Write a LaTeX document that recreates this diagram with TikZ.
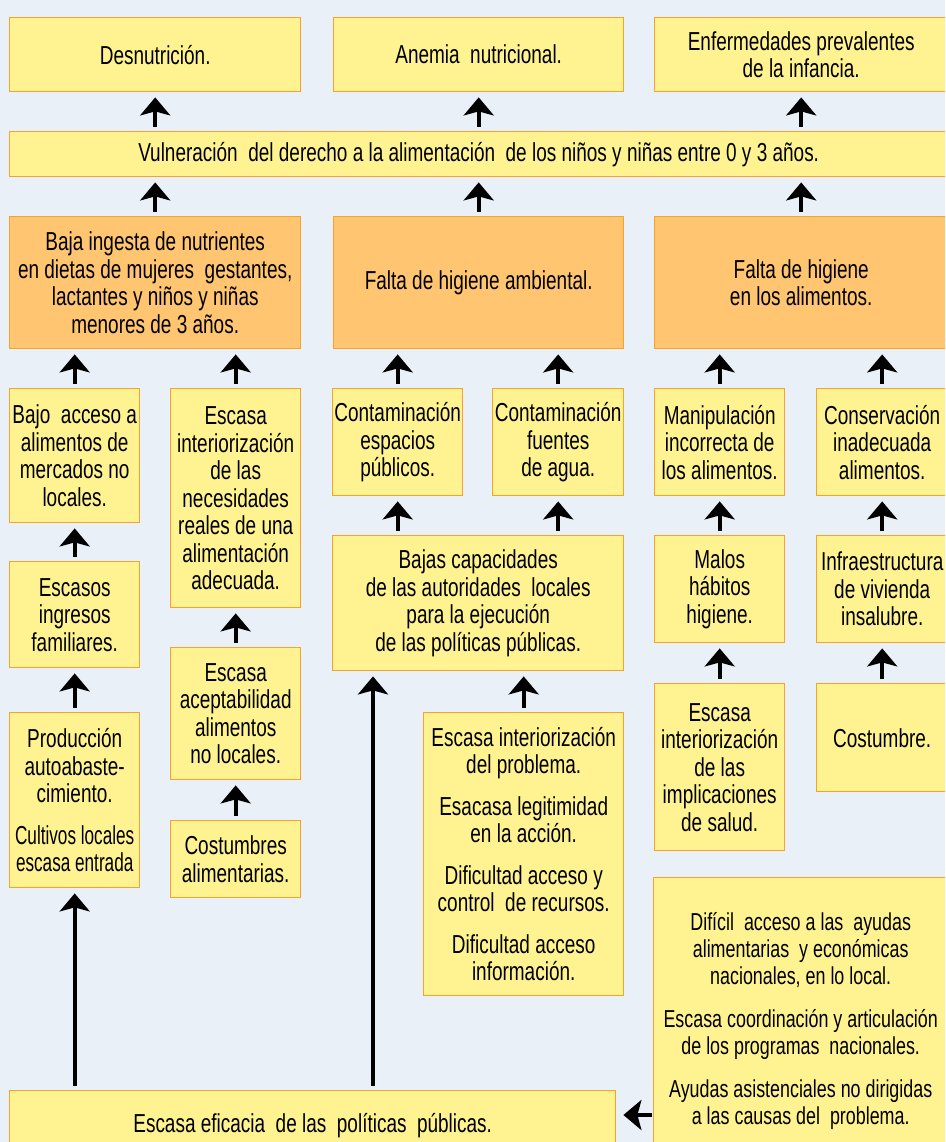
\documentclass[tikz,border=0pt]{standalone}
\usepackage{fontspec}
\setmainfont[FakeStretch=0.73]{Liberation Sans}
\newfontfamily\narrowf[FakeStretch=0.66]{Liberation Sans}
\usetikzlibrary{arrows.meta}
\definecolor{bgc}{RGB}{233,240,248}
\definecolor{yfill}{RGB}{255,243,145}
\definecolor{ofill}{RGB}{255,197,112}
\definecolor{bord}{RGB}{248,162,45}
\tikzset{
  box/.style={draw=bord, line width=1.4pt, fill=yfill, align=center, inner sep=0pt,
     anchor=north west, font=\fontsize{26}{27.5}\selectfont},
  obox/.style={box, fill=ofill},
  arr/.style={line width=4pt, -{Stealth[length=18pt,width=30pt,inset=4pt]}, shorten >=5pt, shorten <=4pt}
}
\begin{document}
\begin{tikzpicture}[x=1pt,y=-1pt]
\useasboundingbox (0,0) rectangle (945,1142);
\clip (0,0) rectangle (945,1142);
\fill[bgc] (0,0) rectangle (945,1142);
% top row
\node[box, minimum width=291pt, minimum height=74pt] (desn) at (9,17) {Desnutrición.};
\node[box, minimum width=290pt, minimum height=74pt] (anem) at (333,17) {Anemia~ nutricional.};
\node[box, minimum width=293pt, minimum height=74pt] (enf) at (654,17) {Enfermedades prevalentes\\de la infancia.};
\node[box, minimum width=938pt, minimum height=45pt] (vul) at (9,131) {Vulneración~ del derecho a la alimentación~ de los niños y niñas entre 0 y 3 años.};
% level 2
\node[obox, minimum width=291pt, minimum height=132pt] (baja) at (9,216) {Baja ingesta de nutrientes\\en dietas de mujeres~ gestantes,\\lactantes y niños y niñas\\menores de 3 años.};
\node[obox, minimum width=290pt, minimum height=132pt] (famb) at (333,216) {Falta de higiene ambiental.};
\node[obox, minimum width=293pt, minimum height=132pt] (falim) at (654,216) {Falta de higiene\\en los alimentos.};
% level 3
\node[box, minimum width=130pt, minimum height=134pt] (bajo) at (9,388) {Bajo~ acceso a\\alimentos de\\mercados no\\locales.};
\node[box, minimum width=130pt, minimum height=219pt] (escint) at (170,388) {Escasa\\interiorización\\de las\\necesidades\\reales de una\\alimentación\\adecuada.};
\node[box, minimum width=130pt, minimum height=107pt] (conesp) at (332,388) {Contaminación\\espacios\\públicos.};
\node[box, minimum width=131pt, minimum height=107pt] (confue) at (492,388) {Contaminación\\fuentes\\de agua.};
\node[box, minimum width=130pt, minimum height=107pt] (manip) at (654,388) {Manipulación\\incorrecta de\\los alimentos.};
\node[box, minimum width=131pt, minimum height=107pt] (conserv) at (816,388) {Conservación\\inadecuada\\alimentos.};
% level 4
\node[box, minimum width=130pt, minimum height=106pt] (ingr) at (9,561) {Escasos\\ingresos\\familiares.};
\node[box, minimum width=130pt, minimum height=132pt] (acept) at (170,647) {Escasa\\aceptabilidad\\alimentos\\no locales.};
\node[box, minimum width=291pt, minimum height=135pt] (bajas) at (332,535) {Bajas capacidades\\de las autoridades~ locales\\para la ejecución\\de las políticas públicas.};
\node[box, minimum width=130pt, minimum height=107pt] (malos) at (654,535) {Malos\\hábitos\\higiene.};
\node[box, minimum width=131pt, minimum height=107pt] (infra) at (816,535) {Infraestructura\\de vivienda\\insalubre.};
% level 5
\node[box, minimum width=130pt, minimum height=175pt] (prod) at (9,712) {Producción\\autoabaste-\\cimiento.\\[14pt]{\narrowf Cultivos locales}\\{\narrowf escasa entrada}};
\node[box, minimum width=130pt, minimum height=77pt] (costal) at (170,820) {Costumbres\\alimentarias.};
\node[box, minimum width=200pt, minimum height=283pt] (escprob) at (423,712) {Escasa interiorización\\del problema.\\[14pt]Esacasa legitimidad\\en la acción.\\[14pt]Dificultad acceso y\\control~ de recursos.\\[14pt]Dificultad acceso\\información.};
\node[box, minimum width=130pt, minimum height=167pt] (escimp) at (654,683) {Escasa\\interiorización\\de las\\implicaciones\\de salud.};
\node[box, minimum width=131pt, minimum height=108pt] (costu) at (816,683) {Costumbre.};
\node[box, minimum width=294pt, minimum height=286pt, font=\fontsize{24.5}{27}\selectfont] (dif) at (653,877) {Difícil~ acceso a las~ ayudas\\alimentarias~ y económicas\\nacionales, en lo local.\\[16pt]Escasa coordinación y articulación\\de los programas~ nacionales.\\[16pt]Ayudas asistenciales no dirigidas\\a las causas del~ problema.};
\node[box, minimum width=606pt, minimum height=70pt] (bot) at (9,1090) {Escasa eficacia~ de las~ políticas~ públicas.};
% arrows
\draw[arr] (desn.south |- vul.north) -- (desn.south);
\draw[arr] (anem.south |- vul.north) -- (anem.south);
\draw[arr] (enf.south |- vul.north) -- (enf.south);
\draw[arr] (baja.north) -- (baja.north |- vul.south);
\draw[arr] (famb.north) -- (famb.north |- vul.south);
\draw[arr] (falim.north) -- (falim.north |- vul.south);
\draw[arr] (bajo.north) -- (bajo.north |- baja.south);
\draw[arr] (escint.north) -- (escint.north |- baja.south);
\draw[arr] (conesp.north) -- (conesp.north |- famb.south);
\draw[arr] (confue.north) -- (confue.north |- famb.south);
\draw[arr] (manip.north) -- (manip.north |- falim.south);
\draw[arr] (conserv.north) -- (conserv.north |- falim.south);
\draw[arr] (ingr.north) -- (bajo.south);
\draw[arr] (acept.north) -- (escint.south);
\draw[arr] (conesp.north |- bajas.north) -- (conesp.south);
\draw[arr] (confue.north |- bajas.north) -- (confue.south);
\draw[arr] (malos.north) -- (manip.south);
\draw[arr] (infra.north) -- (conserv.south);
\draw[arr] (prod.north) -- (ingr.south);
\draw[arr] (costal.north) -- (acept.south);
\draw[arr] (escprob.north) -- (escprob.north |- bajas.south);
\draw[arr] (escimp.north) -- (malos.south);
\draw[arr] (costu.north) -- (infra.south);
\coordinate (lx) at (373,0);
\draw[arr] (bot.north -| prod.south) -- (prod.south);
\draw[arr] (bot.north -| lx) -- (bajas.south -| lx);
\draw[arr, shorten >=7pt, shorten <=1pt] (dif.west |- 0,1115) -- (bot.east |- 0,1115);
\end{tikzpicture}
\end{document}
